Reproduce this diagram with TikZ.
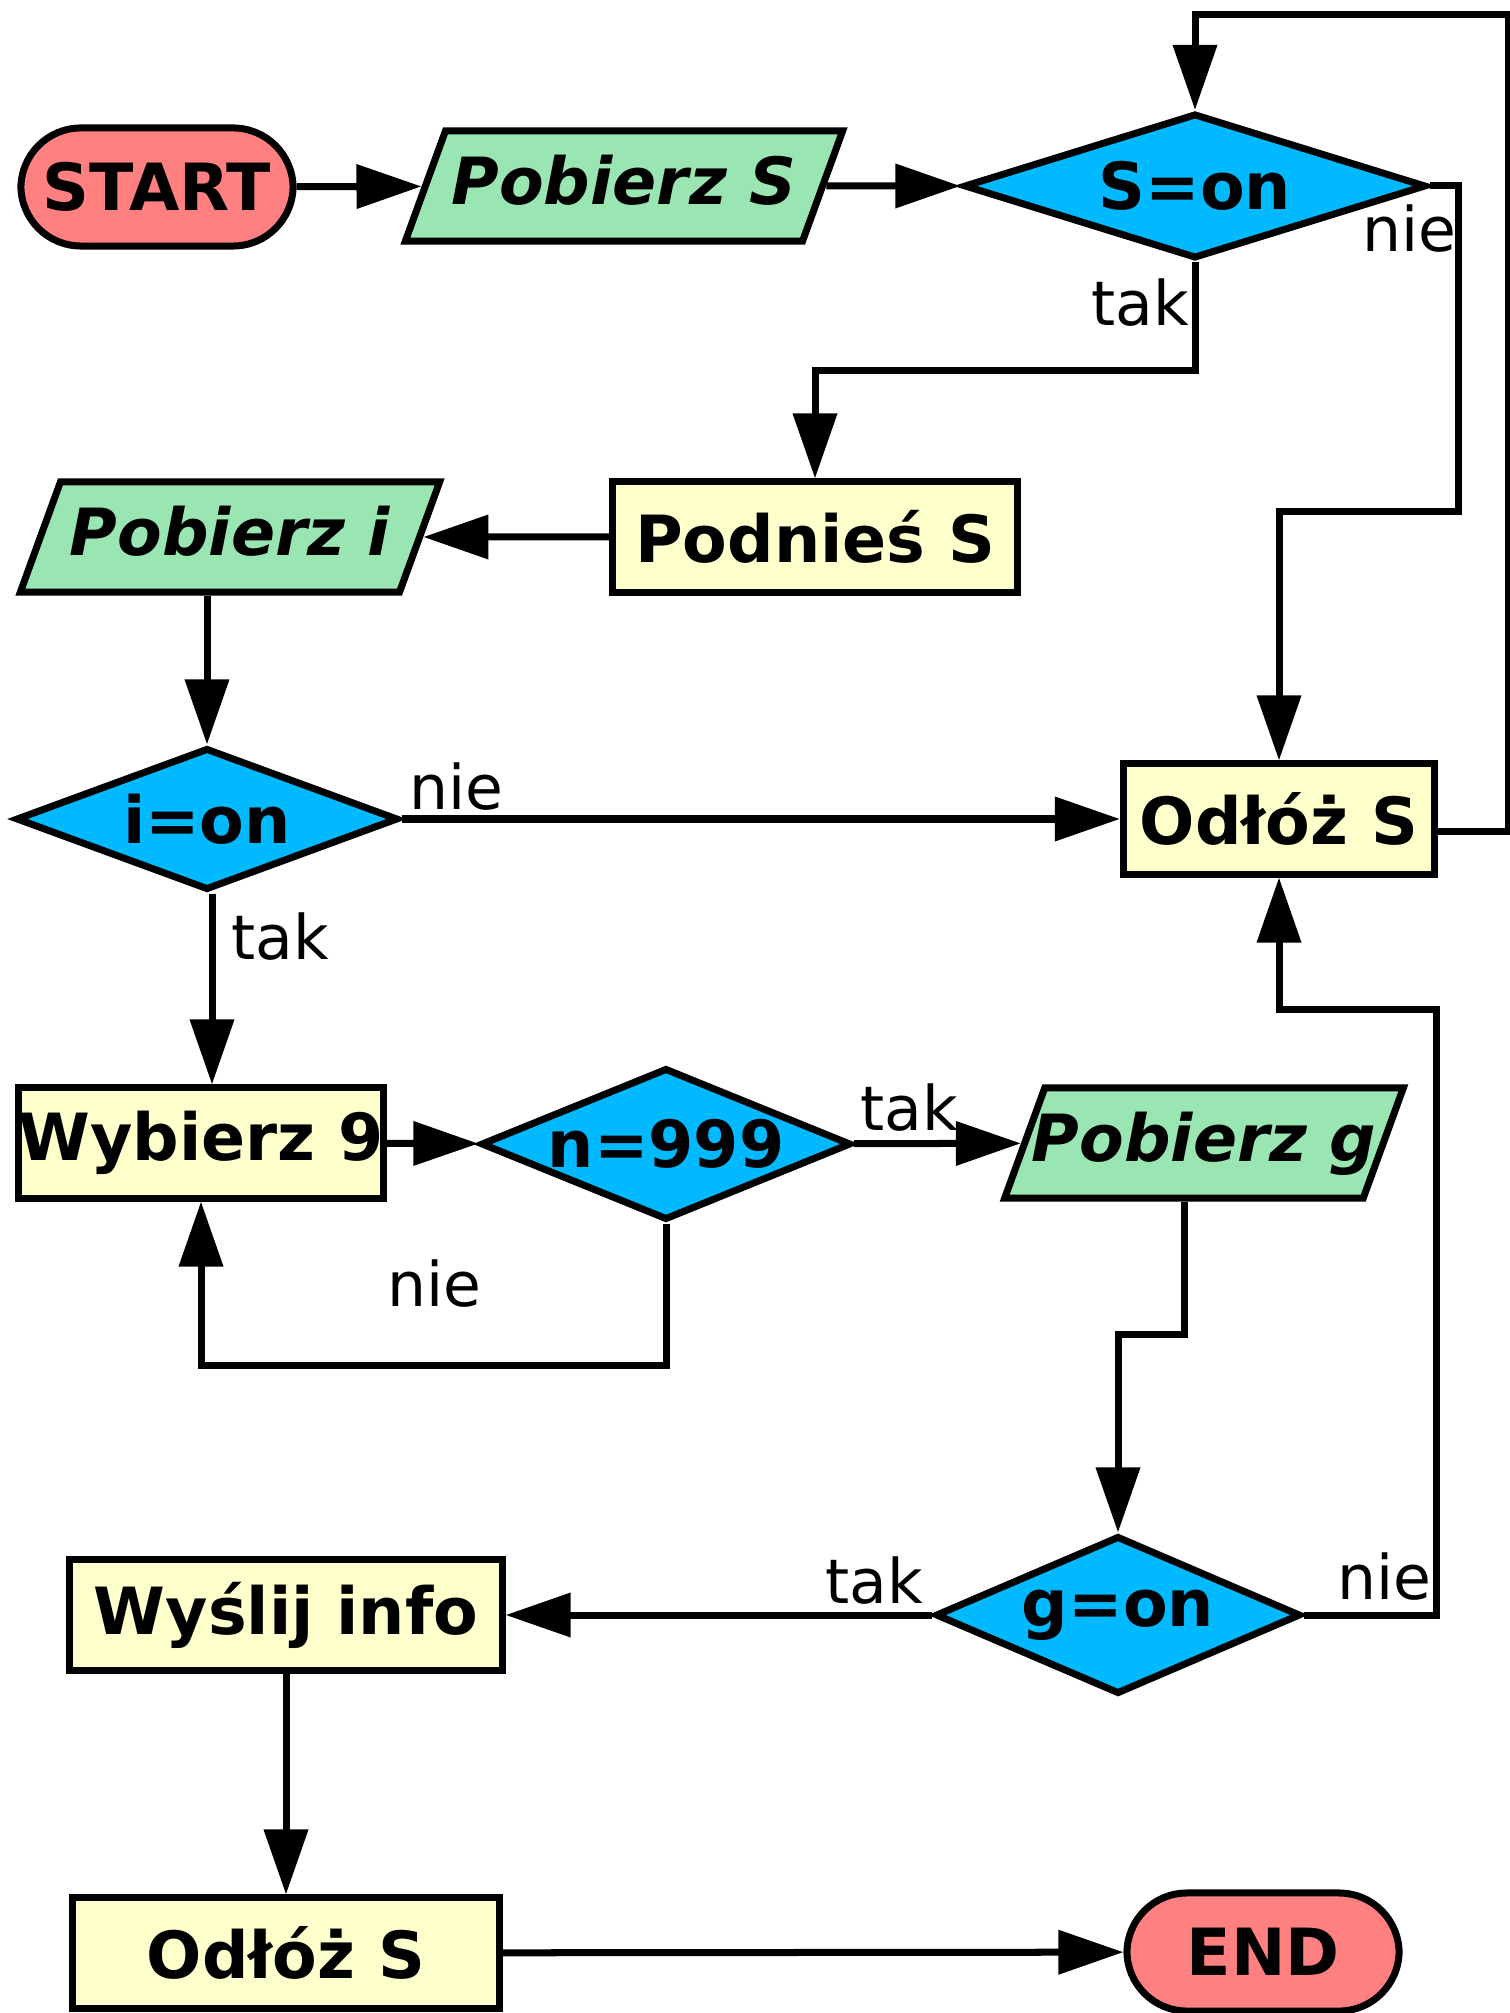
\documentclass[tikz,border=0pt]{standalone}
\usepackage{fontspec}
\setmainfont{DejaVu Sans}
\usetikzlibrary{shapes.geometric,arrows.meta}

\definecolor{termred}{HTML}{FF8080}
\definecolor{iogreen}{HTML}{99E6B3}
\definecolor{decblue}{HTML}{00B9FF}
\definecolor{procyellow}{HTML}{FFFFCC}
\newcommand{\nodefont}{\fontsize{18.5pt}{22pt}\selectfont\bfseries}
\newcommand{\lblfont}{\fontsize{17.5pt}{21pt}\selectfont}

\begin{document}
\begin{tikzpicture}[x=0.01cm, y=-0.01cm, line width=0.07cm,
    box/.style={draw, font=\nodefont, inner sep=0pt},
    term/.style={box, fill=termred, rounded corners=0.6cm, minimum width=2.72cm, minimum height=1.18cm},
    proc/.style={box, fill=procyellow, rectangle, minimum height=1.1cm},
    io/.style={box, fill=iogreen, trapezium, trapezium left angle=70, trapezium right angle=110,
        trapezium stretches body=true, text height=0.47cm, text depth=0.1cm, inner ysep=0.265cm,
        font=\nodefont\itshape},
    dec/.style={box, fill=decblue, diamond, aspect=2.3},
    arr/.style={-{Triangle[length=0.65cm,width=0.43cm]}},
    lbl/.style={font=\lblfont, inner sep=0pt}]
\useasboundingbox (0,0) rectangle (1510,2013);

% nodes
\node[term] (start) at (157,187) {START};
\node[io, minimum width=4.37cm] (pobS) at (624,186) {Pobierz S};
\node[dec, minimum width=4.62cm, minimum height=1.45cm] (son) at (1195,186) {S=on};
\node[proc, minimum width=4.04cm] (podn) at (815,537) {Podnieś S};
\node[io, minimum width=4.19cm] (pobi) at (230,537) {Pobierz i};
\node[dec, minimum width=3.82cm, minimum height=1.42cm] (ion) at (207,819) {i=on};
\node[proc, minimum width=3.11cm] (odl1) at (1279,819) {Odłóż S};
\node[proc, minimum width=3.63cm] (wyb) at (201,1143) {Wybierz 9};
\node[dec, minimum width=3.7cm, minimum height=1.48cm] (n999) at (666,1144) {n=999};
\node[io, minimum width=3.96cm, inner xsep=-0.13cm] (pobg) at (1204,1143) {Pobierz g};
\node[dec, minimum width=3.65cm, minimum height=1.58cm] (gon) at (1118,1615) {g=on};
\node[proc, minimum width=4.32cm] (wysl) at (286,1615) {Wyślij info};
\node[proc, minimum width=4.26cm] (odl2) at (286,1953) {Odłóż S};
\node[term] (end) at (1263,1952) {END};

% labels
\foreach \n/\x/\y/\t in {
    lsn/1409/229/nie, lst/1140/303/tak,
    lin/456/787/nie, lit/280/937/tak,
    lnn/434/1284/nie, lnt/909/1108/tak,
    lgn/1384/1577/nie, lgt/874/1581/tak
} {
    \node[lbl] (\n) at (\x,\y) {\t};
}

% connectors
\draw[arr] (start) -- (pobS);
\draw[arr] (pobS) -- (son);
\draw[arr] ([yshift=-0.12cm]odl1.east) -| (1508,15) -| (son.north);
\draw[arr] (son.east) -- ++(29,0) -- ++(0,326) -| (odl1.north);
\draw[arr] (son.south) -- (1195,371) -| (podn.north);
\draw[arr] (podn) -- (pobi);
\draw[arr] (pobi.south -| ion.north) -- (ion.north);
\draw[arr] (ion) -- (odl1);
\draw[arr] ([xshift=0.05cm]ion.south) -- ([xshift=0.05cm]ion.south |- wyb.north);
\draw[arr] (wyb) -- (n999);
\draw[arr] (n999.south) -- (666,1365) -| (wyb.south);
\draw[arr] (n999) -- (pobg);
\draw[arr] ([xshift=-0.2cm]pobg.south) -- ++(0,133) -| (gon.north);
\draw[arr] (gon.east) -- ++(132,0) -- ++(0,-606) -| (odl1.south);
\draw[arr] (gon) -- (wysl);
\draw[arr] (wysl) -- (odl2);
\draw[arr] (odl2) -- (end);
\end{tikzpicture}
\end{document}
